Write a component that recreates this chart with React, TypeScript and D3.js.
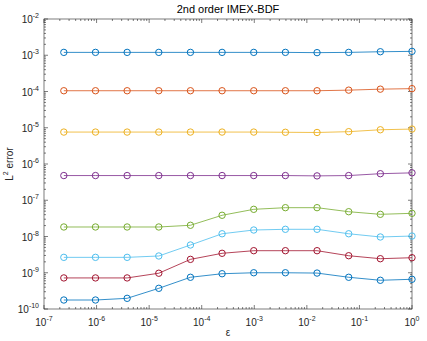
import React, { useEffect, useRef } from "react";
import * as d3 from "d3";

// epsilon values: 4^-11 ... 4^0
const epsValues = [
  2.384e-7, 9.537e-7, 3.815e-6, 1.526e-5, 6.104e-5, 2.441e-4,
  9.766e-4, 3.906e-3, 1.5625e-2, 6.25e-2, 0.25, 1,
];

const errDt1 = [1.2e-3, 1.2e-3, 1.2e-3, 1.2e-3, 1.2e-3, 1.2e-3, 1.2e-3, 1.2e-3, 1.18e-3, 1.2e-3, 1.25e-3, 1.28e-3];
const errDt2 = [1.05e-4, 1.05e-4, 1.05e-4, 1.05e-4, 1.05e-4, 1.05e-4, 1.05e-4, 1.05e-4, 1.05e-4, 1.09e-4, 1.16e-4, 1.2e-4];
const errDt3 = [7.6e-6, 7.6e-6, 7.6e-6, 7.6e-6, 7.6e-6, 7.6e-6, 7.6e-6, 7.5e-6, 7.4e-6, 7.8e-6, 8.8e-6, 9.2e-6];
const errDt4 = [4.8e-7, 4.8e-7, 4.8e-7, 4.8e-7, 4.8e-7, 4.8e-7, 4.8e-7, 4.8e-7, 4.7e-7, 4.8e-7, 5.4e-7, 5.7e-7];
const errDt5 = [1.83e-8, 1.83e-8, 1.83e-8, 1.83e-8, 2.04e-8, 3.85e-8, 5.62e-8, 6.24e-8, 6.24e-8, 4.83e-8, 4.09e-8, 4.36e-8];
const errDt6 = [2.66e-9, 2.66e-9, 2.66e-9, 2.9e-9, 5.83e-9, 1.19e-8, 1.51e-8, 1.58e-8, 1.58e-8, 1.19e-8, 9.7e-9, 1.03e-8];
const errDt7 = [7.2e-10, 7.2e-10, 7.2e-10, 9.7e-10, 2.34e-9, 3.44e-9, 4.06e-9, 4.06e-9, 4.06e-9, 2.95e-9, 2.44e-9, 2.6e-9];
const errDt8 = [1.77e-10, 1.77e-10, 1.97e-10, 3.72e-10, 7.5e-10, 9.4e-10, 1.0e-9, 1.0e-9, 9.8e-10, 7.5e-10, 6.2e-10, 6.6e-10];

const seriesList = [errDt1, errDt2, errDt3, errDt4, errDt5, errDt6, errDt7, errDt8];
const seriesColors = ["#0072BD", "#D95319", "#EDB120", "#7E2F8E", "#77AC30", "#4DBEEE", "#A2142F", "#0072BD"];

const xExponents = [-7, -6, -5, -4, -3, -2, -1, 0];
const yExponents = [-10, -9, -8, -7, -6, -5, -4, -3, -2];

const title = "2nd order IMEX-BDF";

export default function App() {
  const ref = useRef<SVGSVGElement | null>(null);

  useEffect(() => {
    const width = 427;
    const height = 341;
    const margin = { left: 44, right: 15, top: 19, bottom: 32 };
    const axisColor = "#262626";
    const font = "'Liberation Sans', Arial, Helvetica, sans-serif";

    const svg = d3.select(ref.current);
    svg.selectAll("*").remove();

    const x = d3.scaleLog().domain([1e-7, 1]).range([margin.left, width - margin.right]);
    const y = d3.scaleLog().domain([1e-10, 1e-2]).range([height - margin.bottom, margin.top]);
    const [x0, x1] = x.range();
    const [y0, y1] = y.range();

    svg.append("rect")
      .attr("x", x0).attr("y", y1)
      .attr("width", x1 - x0).attr("height", y0 - y1)
      .attr("fill", "white");

    const g = svg.append("g");

    // minor + major ticks
    const xMinor: number[] = [];
    for (let e = -7; e < 0; e++) for (let m = 2; m <= 9; m++) xMinor.push(m * Math.pow(10, e));
    const yMinor: number[] = [];
    for (let e = -10; e < -2; e++) for (let m = 2; m <= 9; m++) yMinor.push(m * Math.pow(10, e));

    const tickLine = (x1_: number, y1_: number, x2_: number, y2_: number) =>
      g.append("line")
        .attr("x1", x1_).attr("y1", y1_).attr("x2", x2_).attr("y2", y2_)
        .attr("stroke", axisColor).attr("stroke-width", 0.6);

    xMinor.forEach((v) => {
      tickLine(x(v), y0, x(v), y0 - 2);
      tickLine(x(v), y1, x(v), y1 + 2);
    });
    xExponents.forEach((e) => {
      const v = Math.pow(10, e);
      tickLine(x(v), y0, x(v), y0 - 4);
      tickLine(x(v), y1, x(v), y1 + 4);
    });
    yMinor.forEach((v) => {
      tickLine(x0, y(v), x0 + 2, y(v));
      tickLine(x1, y(v), x1 - 2, y(v));
    });
    yExponents.forEach((e) => {
      const v = Math.pow(10, e);
      tickLine(x0, y(v), x0 + 4, y(v));
      tickLine(x1, y(v), x1 - 4, y(v));
    });

    // box
    g.append("rect")
      .attr("x", x0).attr("y", y1)
      .attr("width", x1 - x0).attr("height", y0 - y1)
      .attr("fill", "none").attr("stroke", axisColor).attr("stroke-width", 0.6);

    // tick labels
    xExponents.forEach((e) => {
      const t = g.append("text")
        .attr("x", x(Math.pow(10, e)))
        .attr("y", y0 + 17)
        .attr("text-anchor", "middle")
        .attr("font-family", font)
        .attr("font-size", 10)
        .attr("fill", axisColor);
      t.append("tspan").text("10");
      t.append("tspan").attr("dy", -5).attr("font-size", 7).text(String(e));
    });
    yExponents.forEach((e) => {
      const t = g.append("text")
        .attr("x", x0 - 5)
        .attr("y", y(Math.pow(10, e)) + 4)
        .attr("text-anchor", "end")
        .attr("font-family", font)
        .attr("font-size", 10)
        .attr("fill", axisColor);
      t.append("tspan").text("10");
      t.append("tspan").attr("dy", -5).attr("font-size", 7).text(String(e));
    });

    // series
    const line = d3.line<number>()
      .x((_, i) => x(epsValues[i]))
      .y((d) => y(d));

    seriesList.forEach((vals, si) => {
      const sg = g.append("g");
      sg.append("path")
        .attr("d", line(vals))
        .attr("fill", "none")
        .attr("stroke", seriesColors[si])
        .attr("stroke-width", 0.8);
      sg.selectAll("circle")
        .data(vals)
        .enter()
        .append("circle")
        .attr("cx", (_, i) => x(epsValues[i]))
        .attr("cy", (d) => y(d))
        .attr("r", 3.2)
        .attr("fill", "none")
        .attr("stroke", seriesColors[si])
        .attr("stroke-width", 1);
    });

    // title
    svg.append("text")
      .attr("x", (x0 + x1) / 2)
      .attr("y", 13)
      .attr("text-anchor", "middle")
      .attr("font-family", font)
      .attr("font-size", 11)
      .attr("fill", "#000")
      .text(title);

    // x label
    svg.append("text")
      .attr("x", (x0 + x1) / 2)
      .attr("y", 336)
      .attr("text-anchor", "middle")
      .attr("font-family", font)
      .attr("font-size", 10)
      .attr("fill", axisColor)
      .text("ε");

    // y label
    const yl = svg.append("text")
      .attr("transform", `translate(13, ${(y0 + y1) / 2}) rotate(-90)`)
      .attr("text-anchor", "middle")
      .attr("font-family", font)
      .attr("font-size", 10)
      .attr("fill", axisColor);
    yl.append("tspan").text("L");
    yl.append("tspan").attr("dy", -5).attr("font-size", 7).text("2");
    yl.append("tspan").attr("dy", 5).text(" error");
  }, []);

  return (
    <svg
      ref={ref}
      width={427}
      height={341}
      style={{ position: "absolute", left: 0, top: 0, background: "white" }}
    />
  );
}
